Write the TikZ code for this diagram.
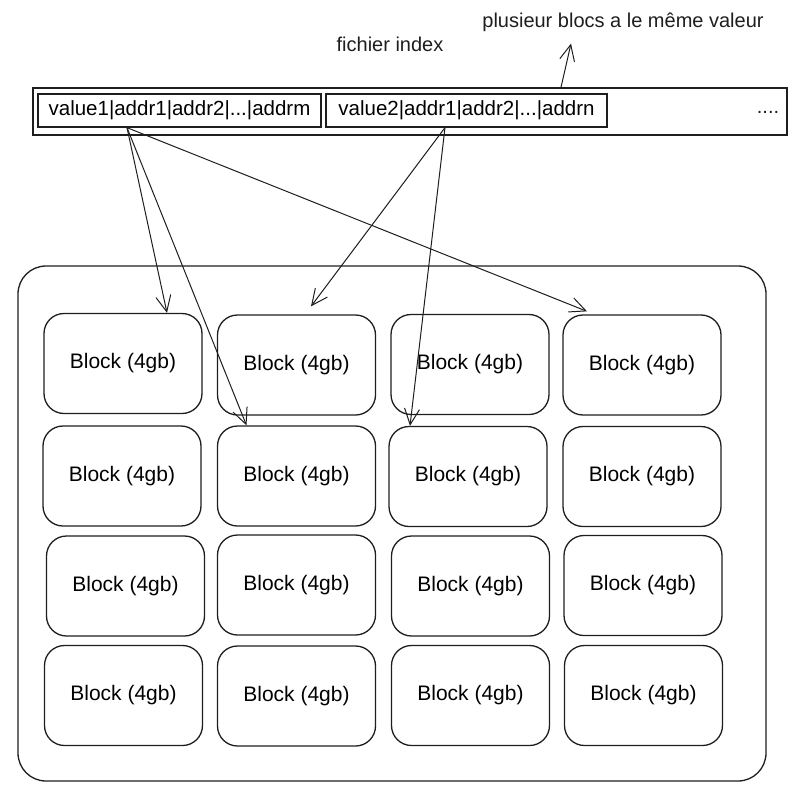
\documentclass[tikz,border=0pt]{standalone}
\usepackage{fontspec}
\setmainfont{Liberation Sans}
\usetikzlibrary{arrows.meta}
\definecolor{ink}{HTML}{1E1E1E}
\tikzset{
  blok/.style={
           rectangle,
           rounded corners=20pt,
           draw=ink, line width=1.3pt,
           minimum width=158pt,
           minimum height=100pt,
           inner sep=0pt,
           text centered,
           font=\fontsize{21}{25}\selectfont},
  entree/.style={
           rectangle,
           draw=ink, line width=1.3pt,
           minimum height=33pt,
           inner sep=0pt,
           text centered,
           font=\fontsize{20.5}{24}\selectfont},
  fichier/.style={
           rectangle,
           draw=ink, line width=1.3pt,
           minimum width=754pt,
           minimum height=47pt},
  disque/.style={
           rectangle,
           rounded corners=28pt,
           draw=ink, line width=1.3pt,
           minimum width=748pt,
           minimum height=515pt},
  note/.style={text=ink, inner sep=0pt, font=\fontsize{20}{24}\selectfont},
  fleche/.style={draw=ink, line width=1pt,
           -{Straight Barb[length=16pt,width=15pt,line width=1pt]}}
    }
\begin{document}
\begin{tikzpicture}[x=1pt,y=-1pt]
\useasboundingbox (0,0) rectangle (790,797);
% le fichier index
\node[fichier] (index) at (410,111.5) {};
\node[entree, minimum width=283pt] (val1) at (179.5,110.5) {value1|addr1|addr2|...|addrm};
\node[entree, minimum width=281pt] (val2) at (466.5,110.5) {value2|addr1|addr2|...|addrn};
\node[note] (suite) at (768,112) {....};
\node[note] (titre) at (390,44) {fichier index};
\node[note] (remarque) at (623,22) {plusieur blocs a le même valeur};
% le disque et ses blocs
\node[disque] (disk) at (392,523.5) {};
\node[blok] (b11) at (123,363.5) {Block (4gb)};
\node[blok] (b12) at (296.5,365) {Block (4gb)};
\node[blok] (b13) at (470,364.5) {Block (4gb)};
\node[blok] (b14) at (642,365) {Block (4gb)};
\node[blok] (b21) at (122,476) {Block (4gb)};
\node[blok] (b22) at (296.5,476) {Block (4gb)};
\node[blok] (b23) at (468,476.5) {Block (4gb)};
\node[blok] (b24) at (642,476.5) {Block (4gb)};
\node[blok] (b31) at (125.5,586) {Block (4gb)};
\node[blok] (b32) at (296.5,585) {Block (4gb)};
\node[blok] (b33) at (470.5,586) {Block (4gb)};
\node[blok] (b34) at (643,585.5) {Block (4gb)};
\node[blok] (b41) at (123.5,695.5) {Block (4gb)};
\node[blok] (b42) at (296.5,696) {Block (4gb)};
\node[blok] (b43) at (470.5,695.5) {Block (4gb)};
\node[blok] (b44) at (643.5,695.5) {Block (4gb)};
% les pointeurs
\draw[fleche] ([xshift=-52.5pt]val1.south) -- ([xshift=44pt]b11.north);
\draw[fleche] ([xshift=-52.5pt]val1.south) -- ([xshift=-50pt]b22.north);
\draw[fleche] ([xshift=-52.5pt]val1.south) -- ([xshift=-55pt,yshift=3pt]b14.north);
\draw[fleche] ([xshift=-21.5pt]val2.south) -- ([xshift=14.5pt,yshift=8pt]b12.north);
\draw[fleche] ([xshift=-21.5pt]val2.south) -- ([xshift=-58pt]b23.north);
\draw[fleche] ([xshift=151pt]index.north) -- ([xshift=-52pt,yshift=-12pt]remarque.south);
\end{tikzpicture}
\end{document}
